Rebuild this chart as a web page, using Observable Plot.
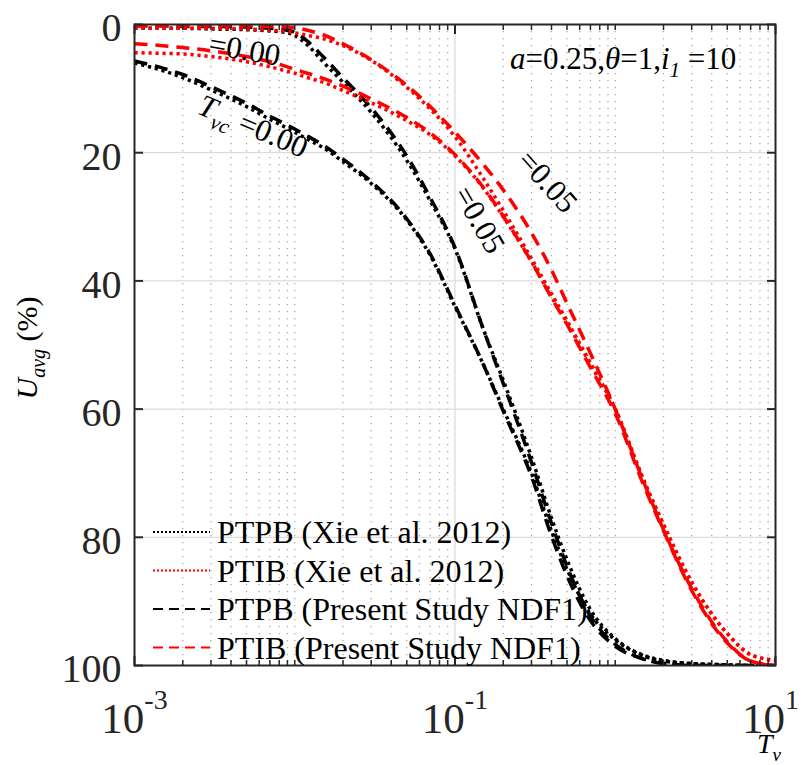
<!DOCTYPE html>
<html>
<head>
<meta charset="utf-8">
<script src="https://cdn.jsdelivr.net/npm/d3@7"></script>
<script src="https://cdn.jsdelivr.net/npm/@observablehq/plot@0.6"></script>
<style>
  body { margin: 0; background: #fff; }
  #chart svg { display: block; }
</style>
</head>
<body>
<div id="chart"></div>
<script>
const FONT = "'Liberation Serif', 'Times New Roman', serif";

// ---- data ----
const tv = [0.001,0.0015,0.002,0.003,0.005,0.007,0.009,0.01,0.012,0.015,0.02,0.03,0.05,0.07,0.1,0.15,0.2,0.3,0.4,0.5,0.7,1,1.5,2,3,5,7,10];

// PTPB, Xie et al. 2012 (dotted black)
const ptpbXie0   = [6.0,7.2,8.3,10.2,12.8,14.8,16.2,16.8,17.9,19.2,21.4,24.8,30.5,36.0,44.0,53.0,60.0,70.0,79.0,85.0,92.0,96.0,98.5,99.3,99.7,99.9,100,100];
const ptpbXie005 = [0.5,0.6,0.6,0.7,0.8,1.0,1.3,1.7,3.2,5.8,9.0,13.7,21.2,27.5,35.0,47.5,55.5,67.5,77.0,83.5,91.3,95.8,98.4,99.2,99.7,99.9,100,100];
// PTIB, Xie et al. 2012 (dotted red)
const ptibXie0   = [4.4,4.5,4.6,5.0,5.8,6.6,7.3,7.6,8.3,9.0,10.3,12.2,15.0,17.2,20.5,25.5,30.0,37.0,42.5,46.5,53.0,60.0,71.0,78.0,87.0,95.0,98.3,99.2];
const ptibXie005 = [0.6,0.6,0.6,0.6,0.7,0.9,1.1,1.3,1.7,2.2,3.3,5.6,9.8,13.2,17.5,24.0,29.0,36.5,42.0,46.2,52.8,60.0,71.0,78.0,87.0,95.0,98.3,99.2];
// PTPB, present study NDF1 (dashed black)
const ptpbNdf0   = [5.7,6.8,7.8,9.7,12.3,14.3,15.7,16.3,17.4,18.8,21.0,24.5,30.3,35.8,43.8,53.0,60.3,70.5,79.8,86.0,93.0,97.0,99.0,99.7,100,100,100,100];
const ptpbNdf005 = [0.2,0.2,0.3,0.3,0.4,0.6,0.9,1.2,2.6,5.0,8.3,13.0,20.5,27.0,34.8,47.5,56.0,68.3,77.8,84.5,92.3,96.7,99.0,99.7,100,100,100,100];
// PTIB, present study NDF1 (dashed red)
const ptibNdf0   = [3.0,3.3,3.6,4.1,5.0,5.8,6.6,7.0,7.6,8.4,9.6,11.6,14.5,16.9,20.3,25.4,29.9,37.0,42.6,46.8,53.5,60.7,71.8,79.0,88.3,96.5,99.3,100];
const ptibNdf005 = [0.2,0.2,0.2,0.2,0.2,0.3,0.4,0.5,0.9,1.6,3.0,5.5,9.5,12.8,16.8,21.8,25.8,32.5,38.3,43.5,51.3,60.0,71.3,78.8,88.0,96.3,99.3,100];

const legendLabels = ["PTPB (Xie et al. 2012)", "PTIB (Xie et al. 2012)", "PTPB (Present Study NDF1)", "PTIB (Present Study NDF1)"];
const yTicks = [0, 20, 40, 60, 80, 100];
const yGrid = [20, 40, 60, 80];
const xTicks = [1e-3, 1e-1, 1e1];
const xTickExponents = ["-3", "-1", "1"];
const xMinor = [];
for (const e of [-3, -2, -1, 0]) for (let m = 1; m <= 9; m++) {
  const v = m * Math.pow(10, e);
  if (!xTicks.some(t => Math.abs(t - v) / t < 1e-9)) xMinor.push(v);
}

// ---- styles ----
const DOT = "3.2,3.8", DASH = "13,8";
const seriesDefs = [
  {U: ptpbXie0,   color: "#000000", dash: DOT},
  {U: ptpbXie005, color: "#000000", dash: DOT},
  {U: ptpbNdf0,   color: "#000000", dash: DASH},
  {U: ptpbNdf005, color: "#000000", dash: DASH},
  {U: ptibXie0,   color: "#ff0000", dash: DOT},
  {U: ptibXie005, color: "#ff0000", dash: DOT},
  {U: ptibNdf0,   color: "#ff0000", dash: DASH},
  {U: ptibNdf005, color: "#ff0000", dash: DASH}
];
const legendStyles = [
  {color: "#000000", dash: "2,2"},
  {color: "#ff0000", dash: "2,2"},
  {color: "#000000", dash: "10,6"},
  {color: "#ff0000", dash: "10,6"}
];

const lineMarks = seriesDefs.map(s =>
  Plot.line(tv.map((t, i) => ({tv: t, U: s.U[i]})), {
    x: "tv", y: "U", stroke: s.color, strokeWidth: 3.5,
    strokeDasharray: s.dash, strokeLinecap: "butt", curve: "monotone-x", clip: true
  })
);

const AX = "#262626";
const chart = Plot.plot({
  width: 802, height: 765,
  marginLeft: 134, marginRight: 27, marginTop: 24, marginBottom: 100,
  style: {fontFamily: FONT, background: "white", color: "black", overflow: "visible"},
  x: {type: "log", domain: [1e-3, 10]},
  y: {domain: [0, 100], reverse: true},
  marks: [
    Plot.gridX(xMinor, {stroke: "#a8a8a8", strokeOpacity: 1, strokeWidth: 1.3, strokeDasharray: "1.3,5.7"}),
    Plot.gridX([1e-1], {stroke: "#dcdcdc", strokeOpacity: 1, strokeWidth: 1.3}),
    Plot.gridY(yGrid, {stroke: "#dcdcdc", strokeOpacity: 1, strokeWidth: 1.3}),
    ...lineMarks,
    Plot.frame({stroke: AX, strokeWidth: 2}),
    // inward ticks
    Plot.axisY(yTicks, {anchor: "left", tickSize: 9, dx: 9, fill: "none", stroke: AX, strokeWidth: 2, label: null}),
    Plot.axisY(yTicks, {anchor: "right", tickSize: 9, dx: -9, fill: "none", stroke: AX, strokeWidth: 2, label: null}),
    Plot.axisX(xTicks, {anchor: "bottom", tickSize: 9, dy: -9, fill: "none", stroke: AX, strokeWidth: 2, label: null}),
    Plot.axisX(xTicks, {anchor: "top", tickSize: 9, dy: 9, fill: "none", stroke: AX, strokeWidth: 2, label: null}),
    Plot.axisX(xMinor, {anchor: "bottom", tickSize: 5, dy: -5, fill: "none", stroke: AX, strokeWidth: 1.5, label: null}),
    Plot.axisX(xMinor, {anchor: "top", tickSize: 5, dy: 5, fill: "none", stroke: AX, strokeWidth: 1.5, label: null}),
    // tick labels
    Plot.axisY(yTicks, {anchor: "left", tickSize: 0, tickPadding: 13, fontSize: 40, dy: 4, fill: "#262626", label: null}),
    Plot.axisX(xTicks, {anchor: "bottom", tickSize: 0, tickPadding: 37, fontSize: 43, fill: "#262626", label: null,
      tickFormat: (d, i) => "10"})
  ]
});
document.getElementById("chart").appendChild(chart);

// ---- post-render decorations ----
const svg = d3.select(chart);
const sxs = chart.scale("x"), sys = chart.scale("y");
const fx = sxs.apply ? v => sxs.apply(v) : d3.scaleLog(sxs.domain, sxs.range);
const fy = sys.apply ? v => sys.apply(v) : d3.scaleLinear(sys.domain, sys.range);

// superscript exponents on x tick labels
svg.selectAll('g[aria-label="x-axis tick label"] text').each(function (d, i) {
  const t = d3.select(this);
  t.text(null);
  const base = t.append("tspan").text("10");
  if (i === xTicks.length - 1) base.attr("dx", -5);
  t.append("tspan").attr("font-size", 28).attr("dy", -24).text(xTickExponents[i]);
});

function richText(g, parts, size) {
  // parts: [text, italic?, sub?]
  const t = g.append("text").attr("font-size", size).attr("fill", "#000").attr("text-anchor", "start");
  let shifted = 0;
  for (const [s, it, sub] of parts) {
    const sp = t.append("tspan").text(s);
    if (it) sp.attr("font-style", "italic");
    const target = sub ? Math.round(size * 0.27) : 0;
    if (target !== shifted) { sp.attr("dy", target - shifted); shifted = target; }
    if (sub) sp.attr("font-size", Math.round(size * 0.68));
  }
  return t;
}

// curve annotations (anchor in data space: Tv, U)
const annotations = [
  {tv: 0.00288, u: 4.6,  rotate: 10, size: 31, parts: [["=0.00"]]},
  {tv: 0.00244, u: 13.9, rotate: 23, size: 31, parts: [["T", true], ["vc", true, true], [" =0.00"]]},
  {tv: 0.0975,  u: 26.5, rotate: 60, size: 31, parts: [["=0.05"]]},
  {tv: 0.242,   u: 21.5, rotate: 48, size: 31, parts: [["=0.05"]]},
  {tv: 0.222,   u: 7.0,  rotate: 0,  size: 31, parts: [["a", true], ["=0.25,"], ["θ", true], ["=1,"], ["i", true], ["1", true, true], [" =10"]]}
];
const ann = svg.append("g");
for (const a of annotations) {
  const g = ann.append("g").attr("transform", `translate(${fx(a.tv)},${fy(a.u)}) rotate(${a.rotate})`);
  richText(g, a.parts, a.size);
}

// axis labels
const yl = svg.append("g").attr("transform", "translate(37,348) rotate(-90)");
richText(yl, [["U", true], ["avg", true, true], [" (%)"]], 30).attr("text-anchor", "middle");
const xl = svg.append("g").attr("transform", "translate(757,753)");
richText(xl, [["T", true], ["v", true, true]], 28);

// legend (inside, bottom-left, no box)
const lg = svg.append("g");
legendLabels.forEach((label, i) => {
  const y = 532 + i * 38.5;
  lg.append("line").attr("x1", 153).attr("x2", 210).attr("y1", y).attr("y2", y)
    .attr("stroke", legendStyles[i].color).attr("stroke-width", 2)
    .attr("stroke-dasharray", legendStyles[i].dash);
  lg.append("text").attr("x", 217).attr("y", y + 11).attr("font-size", 32).attr("fill", "#000")
    .attr("text-anchor", "start").text(label);
});
</script>
</body>
</html>
